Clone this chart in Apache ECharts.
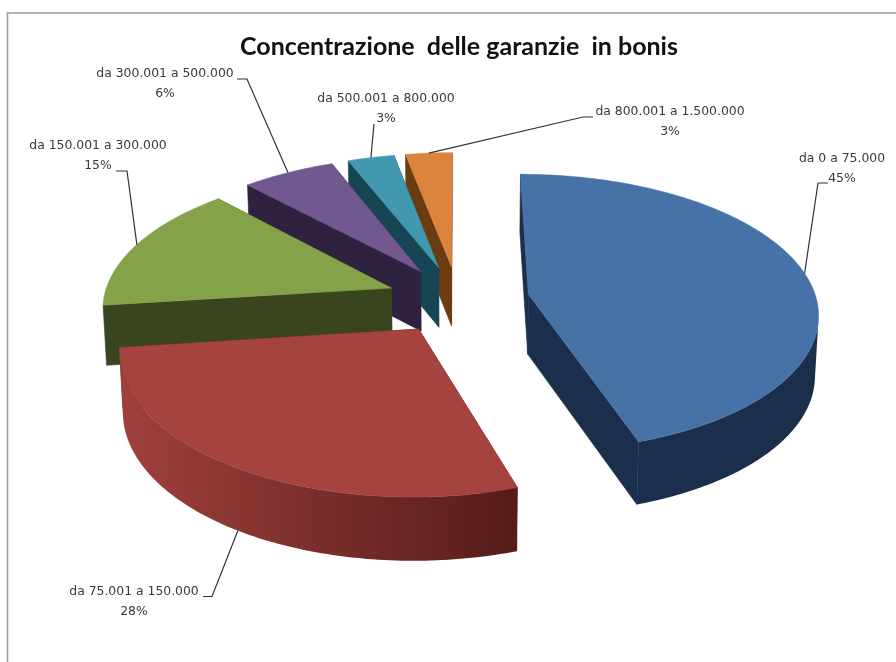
<!DOCTYPE html>
<html>
<head>
<meta charset="utf-8">
<style>html,body{margin:0;padding:0;background:#fff}#chart{width:896px;height:662px}</style>
<script src="https://cdn.jsdelivr.net/npm/echarts@6/dist/echarts.min.js"></script>
</head>
<body>
<div id="chart"></div>
<script>
// Guarantee bands and their share of the portfolio
const categories = ['da 0 a 75.000', 'da 75.001 a 150.000', 'da 150.001 a 300.000', 'da 300.001 a 500.000', 'da 500.001 a 800.000', 'da 800.001 a 1.500.000'];
const shares = [45, 28, 15, 6, 3, 3];
const titleText = 'Concentrazione  delle garanzie  in bonis';

// Colours per band: top face, side wall stops from left to right
const topColors = ['#4672A8', '#A5433F', '#84A348', '#71588F', '#4298AF', '#DB843D'];
const sideColors = [['#1B2F4C'], ['#A0403D', '#7A2E2B', '#551C1A'], ['#38451E'], ['#2F2240'], ['#164654'], ['#6C3C10']];

// Back-to-front painting order of the exploded slices
const paintOrder = [5, 4, 3, 2, 0, 1];

// Label placement: text centre and the elbow of each leader line
const labelCentres = [[842, 159], [134, 592], [98, 146], [165, 74], [386, 99], [670, 112]];
const labelGap = 19.5;
const leaderElbows = [[[828, 183], [818, 183]], [[203, 596.5], [212, 596.5]], [[116, 171], [127, 171]], [[237, 79], [247, 79]], [[374, 124]], [[593, 117], [583, 117]]];

// Pie geometry in the tilted plane
const view = { cx: 458, cy: 299.5, radius: 288, explode: 71.6, perspX: 0.00044, perspY: 0.00046, squash: 0.476, depth: 60 };

const total = shares.reduce((a, b) => a + b, 0);
const deg = Math.PI / 180;

// Angular extents, clockwise from twelve o'clock
const extents = [];
shares.reduce((start, v) => {
  const end = start + v / total * 360;
  extents.push([start, end]);
  return end;
}, 0);

// Project a plane point on the top (z = 0) or bottom (z = 1) of the disc
function project(X, Yup, z) {
  const sx = 1 / (1 + view.perspX * Yup);
  const sy = 1 / (1 + view.perspY * Yup);
  const shrink = z ? 0.99 : 1;
  const x = view.cx + X * sx * shrink;
  let y = view.cy - view.squash * Yup * sy * shrink;
  if (z) y += view.depth * (0.5 + 0.5 * sy);
  return [x, y];
}

// Point of slice i at a given angle and radius
function slicePoint(i, angle, r, z) {
  const mid = (extents[i][0] + extents[i][1]) / 2 * deg;
  const a = angle * deg;
  return project(view.explode * Math.sin(mid) + r * Math.sin(a), view.explode * Math.cos(mid) + r * Math.cos(a), z);
}

// Solid colour, or a left-to-right gradient when a band has several stops
function wallFill(i) {
  const stops = sideColors[i];
  if (stops.length === 1) return stops[0];
  return new echarts.graphic.LinearGradient(0, 0, 1, 0, stops.map((color, k) => ({ offset: k / (stops.length - 1), color })));
}

function poly(points, fill) {
  return { type: 'polygon', shape: { points }, style: { fill, stroke: fill, lineWidth: 0.6 } };
}

// True when the wall quad between two rim samples faces the viewer
function facesViewer(q) {
  let area = 0;
  q.forEach((p, k) => {
    const n = q[(k + 1) % q.length];
    area += p[0] * n[1] - n[0] * p[1];
  });
  return area < 0;
}

function renderSlice(params, api) {
  const i = api.value(0);
  const [a0, a1] = extents[i];
  const R = view.radius;
  const last = sideColors[i][sideColors[i].length - 1];
  const children = [];
  // Radial walls
  [a0, a1].forEach(a => {
    children.push(poly([slicePoint(i, a, 0, 0), slicePoint(i, a, R, 0), slicePoint(i, a, R, 1), slicePoint(i, a, 0, 1)], last));
  });
  // Sample the rim on both planes
  const n = Math.max(8, Math.round(a1 - a0));
  const rimTop = [];
  const rimBottom = [];
  for (let k = 0; k <= n; k++) {
    const a = a0 + (a1 - a0) * k / n;
    rimTop.push(slicePoint(i, a, R, 0));
    rimBottom.push(slicePoint(i, a, R, 1));
  }
  // Curved wall: only the runs of the rim turned towards the viewer
  let runStart = -1;
  for (let k = 0; k <= n; k++) {
    const front = k < n && facesViewer([rimTop[k], rimTop[k + 1], rimBottom[k + 1], rimBottom[k]]);
    if (front && runStart < 0) runStart = k;
    if (!front && runStart >= 0) {
      const top = rimTop.slice(runStart, k + 1);
      const bottom = rimBottom.slice(runStart, k + 1).reverse();
      children.push({ type: 'polygon', shape: { points: top.concat(bottom) }, style: { fill: wallFill(i) } });
      runStart = -1;
    }
  }
  children.push(poly([slicePoint(i, a0, 0, 0)].concat(rimTop), topColors[i]));
  return { type: 'group', children };
}

function renderLabel(params, api) {
  const i = api.value(0);
  const mid = (extents[i][0] + extents[i][1]) / 2;
  // Front slices take the leader on the lower rim, the others on the top rim
  const anchor = slicePoint(i, mid, view.radius, Math.cos(mid * deg) < 0 ? 1 : 0);
  const pts = leaderElbows[i].concat([anchor]);
  const [tx, ty] = labelCentres[i];
  const font = { fontFamily: 'DejaVu Sans', fontSize: 12.4, fill: '#3a3a3a', align: 'center', verticalAlign: 'middle' };
  return {
    type: 'group',
    children: [
      { type: 'polyline', shape: { points: pts }, style: { stroke: '#333', lineWidth: 1.2, fill: null } },
      { type: 'text', style: Object.assign({ x: tx, y: ty, text: categories[i] }, font) },
      { type: 'text', style: Object.assign({ x: tx, y: ty + labelGap, text: shares[i] + '%' }, font) }
    ]
  };
}

const chart = echarts.init(document.getElementById('chart'), null, { renderer: 'canvas' });
chart.setOption({
  animation: false,
  backgroundColor: '#fff',
  title: {
    text: titleText,
    left: 454,
    top: 29,
    textAlign: 'center',
    textStyle: { fontFamily: 'Lato', fontSize: 25, fontWeight: 'bold', color: '#111' }
  },
  graphic: [{
    type: 'polyline',
    silent: true,
    shape: { points: [[7.5, 662], [7.5, 13], [896, 13]] },
    style: { stroke: '#9c9c9c', lineWidth: 1.5, fill: null }
  }],
  series: [
    { type: 'custom', coordinateSystem: 'none', renderItem: renderSlice, data: paintOrder.map(i => [i]), silent: true },
    { type: 'custom', coordinateSystem: 'none', renderItem: renderLabel, data: categories.map((c, i) => [i]), silent: true, z: 3 }
  ]
});
</script>
</body>
</html>
